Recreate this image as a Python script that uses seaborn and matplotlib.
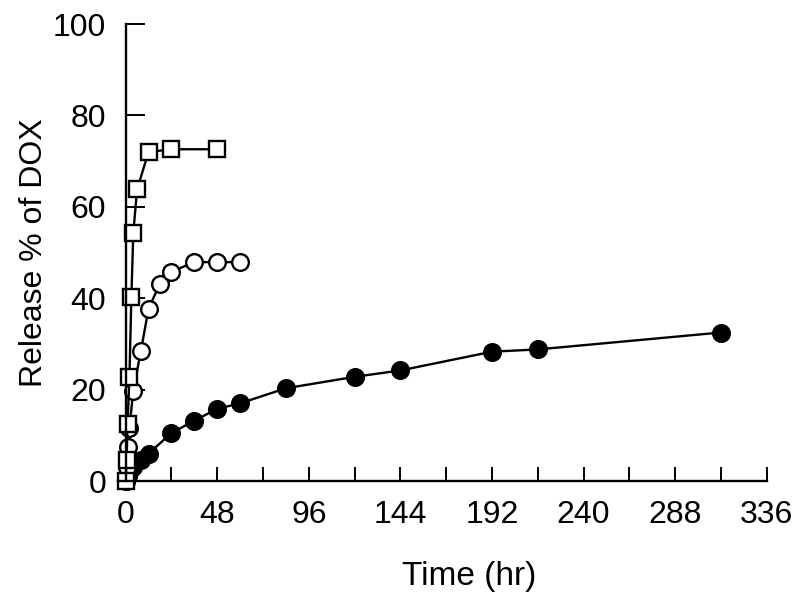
import matplotlib
matplotlib.use("Agg")
import matplotlib.pyplot as plt
import seaborn as sns
import pandas as pd
from matplotlib.ticker import MultipleLocator

# release data
t_filled = [0, 1, 2, 4, 8, 12, 24, 36, 48, 60, 84, 120, 144, 192, 216, 312]
v_filled = [0, 1, 2, 3, 4.6, 6, 10.5, 13.2, 15.8, 17, 20.3, 22.8, 24.2, 28.3, 28.8, 32.5]

t_open = [0, 0.5, 1, 2, 4, 8, 12, 18, 24, 36, 48, 60]
v_open = [0, 3, 7.5, 11.6, 19.7, 28.5, 37.7, 43.2, 45.8, 47.9, 47.9, 47.9]

t_square = [0, 0.5, 1, 2, 3, 4, 6, 12, 24, 48]
v_square = [0, 4.5, 12.5, 22.8, 40.2, 54.2, 63.8, 72, 72.6, 72.6]

x_ticks = [0, 48, 96, 144, 192, 240, 288, 336]
y_ticks = [0, 20, 40, 60, 80, 100]

sns.set_style("ticks")
plt.rcParams['font.family'] = ['Liberation Sans', 'DejaVu Sans']
plt.rcParams['text.color'] = 'black'
plt.rcParams['axes.labelcolor'] = 'black'
plt.rcParams['xtick.color'] = 'black'
plt.rcParams['ytick.color'] = 'black'
plt.rcParams['axes.edgecolor'] = 'black'

fig = plt.figure(figsize=(8, 6.04), dpi=100)
ax = fig.add_axes([0.1475, 0.2036, 0.811, 0.7566])

df_f = pd.DataFrame({"t": t_filled, "v": v_filled})
df_o = pd.DataFrame({"t": t_open, "v": v_open})
df_s = pd.DataFrame({"t": t_square, "v": v_square})

line_kw = dict(color="black", linewidth=1.7, markersize=12, markeredgewidth=1.7,
               markeredgecolor="black", sort=False, clip_on=False)
sns.lineplot(data=df_f, x="t", y="v", ax=ax, marker="o", markerfacecolor="black", **line_kw)
sns.lineplot(data=df_o, x="t", y="v", ax=ax, marker="o", markerfacecolor="white", **line_kw)
sns.lineplot(data=df_s, x="t", y="v", ax=ax, marker="s", markerfacecolor="white", **line_kw)

ax.set_xlim(-4, 336)
ax.set_ylim(0, 100)
ax.spines["left"].set_position(("data", 0))
ax.spines["top"].set_visible(False)
ax.spines["right"].set_visible(False)
for s in ("left", "bottom"):
    ax.spines[s].set_linewidth(1.7)

ax.set_xticks(x_ticks)
ax.xaxis.set_minor_locator(MultipleLocator(24))
ax.set_yticks(y_ticks)
ax.tick_params(axis="x", which="both", direction="in", length=10, width=1.4,
               labelsize=23, pad=14)
ax.tick_params(axis="y", which="both", direction="in", length=14, width=1.4,
               labelsize=23, pad=14)

# x label sits a bit right of centre in the original
ax.set_xlabel("Time (hr)", fontsize=24, labelpad=22, x=0.542)
ax.set_ylabel("Release % of DOX", fontsize=23, labelpad=3)

fig.savefig("out.png", dpi=100)
